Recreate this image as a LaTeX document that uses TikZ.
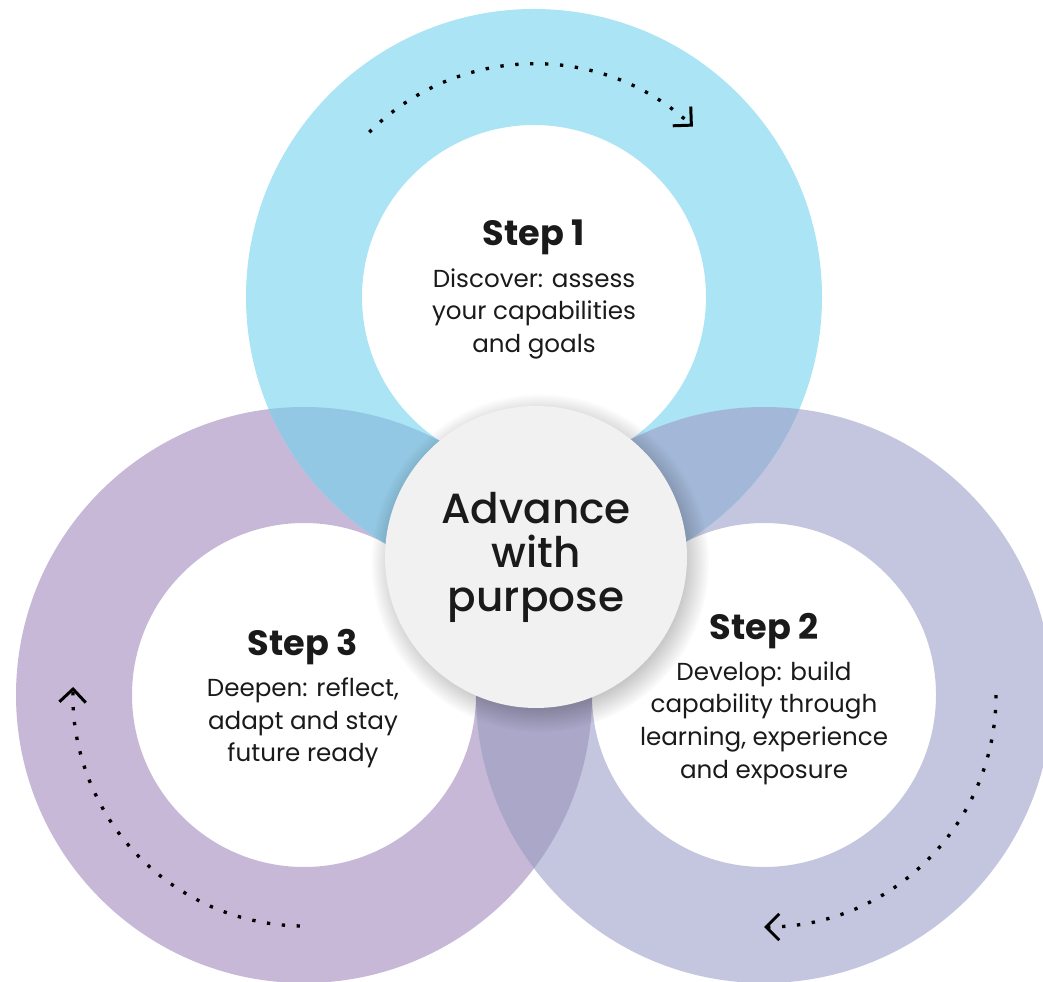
\documentclass[tikz,border=0pt]{standalone}
\usepackage{fontspec}
\setmainfont{Poppins}
\newfontfamily\hubfont{Poppins Medium}
\usetikzlibrary{arrows.meta}
\usetikzlibrary{positioning}
\usetikzlibrary{shadows}

\definecolor{ringblue}{HTML}{ABE4F5}
\definecolor{ringplum}{HTML}{C7B8D7}
\definecolor{ringlilac}{HTML}{C4C5DE}
\definecolor{blueplum}{HTML}{92C8E3}
\definecolor{bluelilac}{HTML}{A3B8D8}
\definecolor{plumlilac}{HTML}{ABA7C9}
\definecolor{hubgray}{HTML}{F1F1F1}
\definecolor{ink}{HTML}{1A1A1A}

\begin{document}
\begin{tikzpicture}[x=0.02cm, y=0.02cm,
    hub/.style={circle, fill=hubgray, minimum size=6.04cm, inner sep=0pt, align=center, text=ink,
      font=\hubfont\fontsize{24}{25}\selectfont,
      circular drop shadow={shadow scale=1.12, shadow xshift=2pt, shadow yshift=-3pt, fill=black, opacity=0.22}},
    steptitle/.style={anchor=base, inner sep=0pt, text=ink, font=\bfseries\fontsize{20}{24}\selectfont},
    stepbody/.style={anchor=north, inner sep=0pt, align=center, text=ink, font=\fontsize{14}{18.7}\selectfont},
    looparrow/.style={line width=1.9pt, dash pattern=on 1.9pt off 6.6pt,
      -{Straight Barb[length=7.5pt, width=15pt, line width=1.7pt]}}]
    \useasboundingbox (0,0) rectangle (1043,-982);
    \clip (0,0) rectangle (1043,-982);

    % ring centres
    \coordinate (c1) at (534,-297);
    \coordinate (c2) at (764,-695);
    \coordinate (c3) at (304,-695);

    % the three rings
    \fill[ringplum, even odd rule] (c3) circle[radius=288] (c3) circle[radius=172];
    \fill[ringlilac, even odd rule] (c2) circle[radius=288] (c2) circle[radius=172];
    \fill[ringblue, even odd rule] (c1) circle[radius=288] (c1) circle[radius=172];

    % where they cross
    \begin{scope}
      \clip (c1) circle[radius=288];
      \fill[blueplum] (c3) circle[radius=288];
      \fill[bluelilac] (c2) circle[radius=288];
    \end{scope}
    \begin{scope}
      \clip (c3) circle[radius=288];
      \fill[plumlilac] (c2) circle[radius=288];
    \end{scope}

    % dotted turn arrows
    \draw[looparrow] (c1) ++(135:233) arc[start angle=135, end angle=47, radius=233];
    \draw[looparrow] (c2) ++(0:232) arc[start angle=0, end angle=-90, radius=232];
    \draw[looparrow] (c3) ++(269:231) arc[start angle=269, end angle=178, radius=231];

    \node[hub] (hub) at (536,-557) {Advance\\with\\purpose};

    \node[steptitle] (step1) at (534,-246) {Step 1};
    \node[stepbody, below=7pt of step1] (discover) {Discover: assess\\your capabilities\\and goals};
    \node[steptitle] (step2) at (764,-639) {Step 2};
    \node[stepbody, below=7pt of step2] (develop) {Develop: build\\capability through\\learning, experience\\and exposure};
    \node[steptitle] (step3) at (303,-655) {Step 3};
    \node[stepbody, below=7pt of step3] (deepen) {Deepen: reflect,\\adapt and stay\\future ready};
\end{tikzpicture}
\end{document}
